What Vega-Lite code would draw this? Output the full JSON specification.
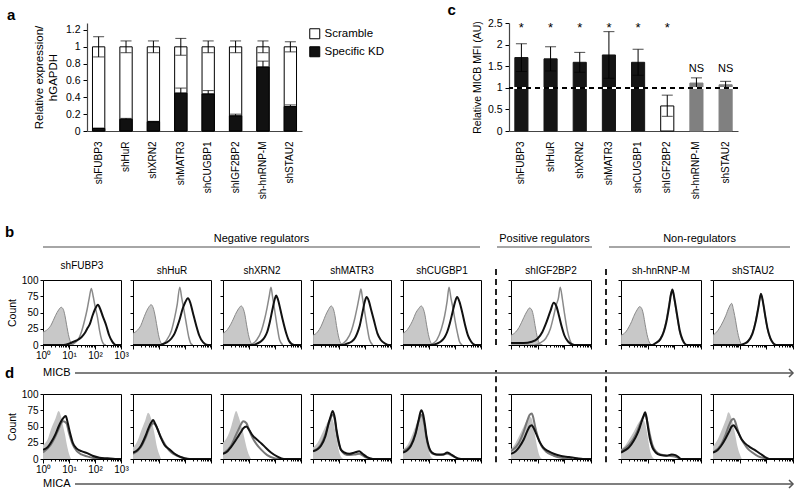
{
"$schema":"https://vega.github.io/schema/vega-lite/v6.json",
"padding":{"left":5,"top":3,"right":0,"bottom":0},
"background":"#ffffff",
"config":{
 "font":"Liberation Sans",
 "view":{"stroke":"#000","strokeWidth":1},
 "axis":{"domain":false,"grid":false,"labelColor":"#000","titleColor":"#000","tickColor":"#000","labelFontSize":10,"titleFontSize":10.5,"titleFontWeight":"normal"},
 "legend":{"labelColor":"#000"},
 "title":{"fontSize":10,"fontWeight":"normal","color":"#000","offset":4},
 "text":{"color":"#000"}
},
"datasets":{
 "expr":[
  {"gene":"shFUBP3","series":"Scramble","value":1,"lo":0.88,"hi":1.12},
  {"gene":"shHuR","series":"Scramble","value":1,"lo":0.93,"hi":1.07},
  {"gene":"shXRN2","series":"Scramble","value":1,"lo":0.93,"hi":1.07},
  {"gene":"shMATR3","series":"Scramble","value":1,"lo":0.9,"hi":1.1},
  {"gene":"shCUGBP1","series":"Scramble","value":1,"lo":0.93,"hi":1.07},
  {"gene":"shIGF2BP2","series":"Scramble","value":1,"lo":0.93,"hi":1.07},
  {"gene":"sh-hnRNP-M","series":"Scramble","value":1,"lo":0.93,"hi":1.07},
  {"gene":"shSTAU2","series":"Scramble","value":1,"lo":0.94,"hi":1.06},
  {"gene":"shFUBP3","series":"Specific KD","value":0.03,"lo":0.03,"hi":0.035},
  {"gene":"shHuR","series":"Specific KD","value":0.14,"lo":0.14,"hi":0.15},
  {"gene":"shXRN2","series":"Specific KD","value":0.11,"lo":0.11,"hi":0.115},
  {"gene":"shMATR3","series":"Specific KD","value":0.45,"lo":0.45,"hi":0.51},
  {"gene":"shCUGBP1","series":"Specific KD","value":0.44,"lo":0.44,"hi":0.48},
  {"gene":"shIGF2BP2","series":"Specific KD","value":0.18,"lo":0.18,"hi":0.2},
  {"gene":"sh-hnRNP-M","series":"Specific KD","value":0.76,"lo":0.76,"hi":0.83},
  {"gene":"shSTAU2","series":"Specific KD","value":0.29,"lo":0.29,"hi":0.31}
 ],
 "mfi":[
  {"gene":"shFUBP3","group":"neg","value":1.7,"lo":1.38,"hi":2.02,"sig":"*"},
  {"gene":"shHuR","group":"neg","value":1.67,"lo":1.39,"hi":1.95,"sig":"*"},
  {"gene":"shXRN2","group":"neg","value":1.59,"lo":1.36,"hi":1.82,"sig":"*"},
  {"gene":"shMATR3","group":"neg","value":1.76,"lo":1.22,"hi":2.3,"sig":"*"},
  {"gene":"shCUGBP1","group":"neg","value":1.59,"lo":1.29,"hi":1.89,"sig":"*"},
  {"gene":"shIGF2BP2","group":"pos","value":0.58,"lo":0.34,"hi":0.83,"sig":"*"},
  {"gene":"sh-hnRNP-M","group":"non","value":1.11,"lo":0.99,"hi":1.23,"sig":"NS"},
  {"gene":"shSTAU2","group":"non","value":1.07,"lo":0.99,"hi":1.15,"sig":"NS"}
 ],
 "flow":[
  {"panel":"b1","series":"iso","mfi":1,"count":20},{"panel":"b1","series":"iso","mfi":1.5,"count":24},{"panel":"b1","series":"iso","mfi":2,"count":30},{"panel":"b1","series":"iso","mfi":2.5,"count":38},{"panel":"b1","series":"iso","mfi":3,"count":45},{"panel":"b1","series":"iso","mfi":4,"count":54},{"panel":"b1","series":"iso","mfi":5,"count":58},{"panel":"b1","series":"iso","mfi":6,"count":55},{"panel":"b1","series":"iso","mfi":7,"count":45},{"panel":"b1","series":"iso","mfi":8,"count":32},{"panel":"b1","series":"iso","mfi":10,"count":12},{"panel":"b1","series":"iso","mfi":12,"count":3},{"panel":"b1","series":"iso","mfi":15,"count":0},
  {"panel":"b1","series":"scr","mfi":12,"count":0},{"panel":"b1","series":"scr","mfi":15,"count":2},{"panel":"b1","series":"scr","mfi":20,"count":6},{"panel":"b1","series":"scr","mfi":25,"count":12},{"panel":"b1","series":"scr","mfi":30,"count":20},{"panel":"b1","series":"scr","mfi":40,"count":38},{"panel":"b1","series":"scr","mfi":50,"count":55},{"panel":"b1","series":"scr","mfi":60,"count":72},{"panel":"b1","series":"scr","mfi":72,"count":87},{"panel":"b1","series":"scr","mfi":85,"count":75},{"panel":"b1","series":"scr","mfi":100,"count":60},{"panel":"b1","series":"scr","mfi":125,"count":42},{"panel":"b1","series":"scr","mfi":150,"count":22},{"panel":"b1","series":"scr","mfi":180,"count":8},{"panel":"b1","series":"scr","mfi":220,"count":1},{"panel":"b1","series":"scr","mfi":260,"count":0},
  {"panel":"b1","series":"kd","mfi":1,"count":0},{"panel":"b1","series":"kd","mfi":6,"count":0},{"panel":"b1","series":"kd","mfi":10,"count":2},{"panel":"b1","series":"kd","mfi":15,"count":5},{"panel":"b1","series":"kd","mfi":20,"count":7},{"panel":"b1","series":"kd","mfi":30,"count":12},{"panel":"b1","series":"kd","mfi":40,"count":18},{"panel":"b1","series":"kd","mfi":50,"count":25},{"panel":"b1","series":"kd","mfi":63,"count":32},{"panel":"b1","series":"kd","mfi":80,"count":45},{"panel":"b1","series":"kd","mfi":100,"count":55},{"panel":"b1","series":"kd","mfi":130,"count":62},{"panel":"b1","series":"kd","mfi":160,"count":55},{"panel":"b1","series":"kd","mfi":200,"count":44},{"panel":"b1","series":"kd","mfi":270,"count":30},{"panel":"b1","series":"kd","mfi":350,"count":15},{"panel":"b1","series":"kd","mfi":450,"count":6},{"panel":"b1","series":"kd","mfi":640,"count":0},{"panel":"b1","series":"kd","mfi":1000,"count":0},

  {"panel":"b2","series":"iso","mfi":1,"count":18},{"panel":"b2","series":"iso","mfi":1.5,"count":23},{"panel":"b2","series":"iso","mfi":2,"count":30},{"panel":"b2","series":"iso","mfi":2.5,"count":40},{"panel":"b2","series":"iso","mfi":3,"count":48},{"panel":"b2","series":"iso","mfi":4,"count":58},{"panel":"b2","series":"iso","mfi":5,"count":62},{"panel":"b2","series":"iso","mfi":6,"count":57},{"panel":"b2","series":"iso","mfi":7,"count":46},{"panel":"b2","series":"iso","mfi":8,"count":33},{"panel":"b2","series":"iso","mfi":10,"count":12},{"panel":"b2","series":"iso","mfi":12,"count":3},{"panel":"b2","series":"iso","mfi":15,"count":0},
  {"panel":"b2","series":"scr","mfi":12,"count":0},{"panel":"b2","series":"scr","mfi":16,"count":3},{"panel":"b2","series":"scr","mfi":20,"count":8},{"panel":"b2","series":"scr","mfi":30,"count":22},{"panel":"b2","series":"scr","mfi":40,"count":42},{"panel":"b2","series":"scr","mfi":50,"count":62},{"panel":"b2","series":"scr","mfi":63,"count":89},{"panel":"b2","series":"scr","mfi":75,"count":72},{"panel":"b2","series":"scr","mfi":90,"count":55},{"panel":"b2","series":"scr","mfi":110,"count":35},{"panel":"b2","series":"scr","mfi":140,"count":12},{"panel":"b2","series":"scr","mfi":170,"count":2},{"panel":"b2","series":"scr","mfi":200,"count":0},
  {"panel":"b2","series":"kd","mfi":1,"count":0},{"panel":"b2","series":"kd","mfi":10,"count":0},{"panel":"b2","series":"kd","mfi":15,"count":2},{"panel":"b2","series":"kd","mfi":20,"count":4},{"panel":"b2","series":"kd","mfi":30,"count":10},{"panel":"b2","series":"kd","mfi":40,"count":18},{"panel":"b2","series":"kd","mfi":50,"count":28},{"panel":"b2","series":"kd","mfi":63,"count":40},{"panel":"b2","series":"kd","mfi":80,"count":55},{"panel":"b2","series":"kd","mfi":100,"count":65},{"panel":"b2","series":"kd","mfi":130,"count":72},{"panel":"b2","series":"kd","mfi":160,"count":65},{"panel":"b2","series":"kd","mfi":200,"count":50},{"panel":"b2","series":"kd","mfi":270,"count":30},{"panel":"b2","series":"kd","mfi":350,"count":15},{"panel":"b2","series":"kd","mfi":500,"count":4},{"panel":"b2","series":"kd","mfi":760,"count":0},{"panel":"b2","series":"kd","mfi":1000,"count":0},

  {"panel":"b3","series":"iso","mfi":1,"count":18},{"panel":"b3","series":"iso","mfi":1.5,"count":24},{"panel":"b3","series":"iso","mfi":2,"count":32},{"panel":"b3","series":"iso","mfi":2.5,"count":40},{"panel":"b3","series":"iso","mfi":3,"count":47},{"panel":"b3","series":"iso","mfi":4,"count":56},{"panel":"b3","series":"iso","mfi":5,"count":60},{"panel":"b3","series":"iso","mfi":6,"count":56},{"panel":"b3","series":"iso","mfi":7,"count":46},{"panel":"b3","series":"iso","mfi":8,"count":32},{"panel":"b3","series":"iso","mfi":10,"count":12},{"panel":"b3","series":"iso","mfi":12,"count":3},{"panel":"b3","series":"iso","mfi":15,"count":0},
  {"panel":"b3","series":"scr","mfi":10,"count":0},{"panel":"b3","series":"scr","mfi":15,"count":3},{"panel":"b3","series":"scr","mfi":20,"count":8},{"panel":"b3","series":"scr","mfi":30,"count":22},{"panel":"b3","series":"scr","mfi":40,"count":40},{"panel":"b3","series":"scr","mfi":50,"count":58},{"panel":"b3","series":"scr","mfi":60,"count":75},{"panel":"b3","series":"scr","mfi":70,"count":89},{"panel":"b3","series":"scr","mfi":80,"count":75},{"panel":"b3","series":"scr","mfi":100,"count":50},{"panel":"b3","series":"scr","mfi":125,"count":25},{"panel":"b3","series":"scr","mfi":150,"count":8},{"panel":"b3","series":"scr","mfi":200,"count":0},
  {"panel":"b3","series":"kd","mfi":1,"count":0},{"panel":"b3","series":"kd","mfi":15,"count":0},{"panel":"b3","series":"kd","mfi":20,"count":2},{"panel":"b3","series":"kd","mfi":30,"count":6},{"panel":"b3","series":"kd","mfi":40,"count":12},{"panel":"b3","series":"kd","mfi":50,"count":20},{"panel":"b3","series":"kd","mfi":63,"count":35},{"panel":"b3","series":"kd","mfi":80,"count":55},{"panel":"b3","series":"kd","mfi":100,"count":72},{"panel":"b3","series":"kd","mfi":110,"count":76},{"panel":"b3","series":"kd","mfi":130,"count":70},{"panel":"b3","series":"kd","mfi":160,"count":55},{"panel":"b3","series":"kd","mfi":200,"count":38},{"panel":"b3","series":"kd","mfi":270,"count":18},{"panel":"b3","series":"kd","mfi":350,"count":6},{"panel":"b3","series":"kd","mfi":540,"count":0},{"panel":"b3","series":"kd","mfi":1000,"count":0},

  {"panel":"b4","series":"iso","mfi":1,"count":15},{"panel":"b4","series":"iso","mfi":1.5,"count":20},{"panel":"b4","series":"iso","mfi":2,"count":28},{"panel":"b4","series":"iso","mfi":2.5,"count":37},{"panel":"b4","series":"iso","mfi":3,"count":45},{"panel":"b4","series":"iso","mfi":4,"count":55},{"panel":"b4","series":"iso","mfi":5,"count":60},{"panel":"b4","series":"iso","mfi":6,"count":56},{"panel":"b4","series":"iso","mfi":7,"count":45},{"panel":"b4","series":"iso","mfi":8,"count":30},{"panel":"b4","series":"iso","mfi":10,"count":10},{"panel":"b4","series":"iso","mfi":12,"count":2},{"panel":"b4","series":"iso","mfi":15,"count":0},
  {"panel":"b4","series":"scr","mfi":10,"count":0},{"panel":"b4","series":"scr","mfi":15,"count":3},{"panel":"b4","series":"scr","mfi":20,"count":8},{"panel":"b4","series":"scr","mfi":30,"count":22},{"panel":"b4","series":"scr","mfi":40,"count":40},{"panel":"b4","series":"scr","mfi":50,"count":58},{"panel":"b4","series":"scr","mfi":60,"count":74},{"panel":"b4","series":"scr","mfi":70,"count":86},{"panel":"b4","series":"scr","mfi":80,"count":72},{"panel":"b4","series":"scr","mfi":100,"count":48},{"panel":"b4","series":"scr","mfi":125,"count":24},{"panel":"b4","series":"scr","mfi":150,"count":8},{"panel":"b4","series":"scr","mfi":200,"count":0},
  {"panel":"b4","series":"kd","mfi":1,"count":0},{"panel":"b4","series":"kd","mfi":15,"count":0},{"panel":"b4","series":"kd","mfi":20,"count":2},{"panel":"b4","series":"kd","mfi":30,"count":5},{"panel":"b4","series":"kd","mfi":40,"count":10},{"panel":"b4","series":"kd","mfi":50,"count":18},{"panel":"b4","series":"kd","mfi":63,"count":30},{"panel":"b4","series":"kd","mfi":80,"count":50},{"panel":"b4","series":"kd","mfi":100,"count":68},{"panel":"b4","series":"kd","mfi":115,"count":74},{"panel":"b4","series":"kd","mfi":140,"count":68},{"panel":"b4","series":"kd","mfi":170,"count":55},{"panel":"b4","series":"kd","mfi":220,"count":38},{"panel":"b4","series":"kd","mfi":300,"count":18},{"panel":"b4","series":"kd","mfi":400,"count":8},{"panel":"b4","series":"kd","mfi":600,"count":2},{"panel":"b4","series":"kd","mfi":830,"count":0},{"panel":"b4","series":"kd","mfi":1000,"count":0},

  {"panel":"b5","series":"iso","mfi":1,"count":18},{"panel":"b5","series":"iso","mfi":1.5,"count":24},{"panel":"b5","series":"iso","mfi":2,"count":32},{"panel":"b5","series":"iso","mfi":2.5,"count":40},{"panel":"b5","series":"iso","mfi":3,"count":48},{"panel":"b5","series":"iso","mfi":4,"count":56},{"panel":"b5","series":"iso","mfi":5,"count":60},{"panel":"b5","series":"iso","mfi":6,"count":56},{"panel":"b5","series":"iso","mfi":7,"count":46},{"panel":"b5","series":"iso","mfi":8,"count":32},{"panel":"b5","series":"iso","mfi":10,"count":12},{"panel":"b5","series":"iso","mfi":12,"count":3},{"panel":"b5","series":"iso","mfi":15,"count":0},
  {"panel":"b5","series":"scr","mfi":10,"count":0},{"panel":"b5","series":"scr","mfi":15,"count":3},{"panel":"b5","series":"scr","mfi":20,"count":8},{"panel":"b5","series":"scr","mfi":30,"count":25},{"panel":"b5","series":"scr","mfi":40,"count":45},{"panel":"b5","series":"scr","mfi":50,"count":68},{"panel":"b5","series":"scr","mfi":59,"count":89},{"panel":"b5","series":"scr","mfi":70,"count":72},{"panel":"b5","series":"scr","mfi":85,"count":55},{"panel":"b5","series":"scr","mfi":100,"count":38},{"panel":"b5","series":"scr","mfi":125,"count":18},{"panel":"b5","series":"scr","mfi":150,"count":5},{"panel":"b5","series":"scr","mfi":190,"count":0},
  {"panel":"b5","series":"kd","mfi":1,"count":0},{"panel":"b5","series":"kd","mfi":12,"count":0},{"panel":"b5","series":"kd","mfi":20,"count":2},{"panel":"b5","series":"kd","mfi":30,"count":6},{"panel":"b5","series":"kd","mfi":40,"count":12},{"panel":"b5","series":"kd","mfi":50,"count":20},{"panel":"b5","series":"kd","mfi":63,"count":33},{"panel":"b5","series":"kd","mfi":80,"count":50},{"panel":"b5","series":"kd","mfi":100,"count":66},{"panel":"b5","series":"kd","mfi":120,"count":74},{"panel":"b5","series":"kd","mfi":150,"count":66},{"panel":"b5","series":"kd","mfi":190,"count":50},{"panel":"b5","series":"kd","mfi":240,"count":32},{"panel":"b5","series":"kd","mfi":320,"count":14},{"panel":"b5","series":"kd","mfi":420,"count":5},{"panel":"b5","series":"kd","mfi":600,"count":0},{"panel":"b5","series":"kd","mfi":1000,"count":0},

  {"panel":"b6","series":"iso","mfi":1,"count":15},{"panel":"b6","series":"iso","mfi":1.5,"count":20},{"panel":"b6","series":"iso","mfi":2,"count":27},{"panel":"b6","series":"iso","mfi":2.5,"count":35},{"panel":"b6","series":"iso","mfi":3,"count":42},{"panel":"b6","series":"iso","mfi":4,"count":52},{"panel":"b6","series":"iso","mfi":5,"count":57},{"panel":"b6","series":"iso","mfi":6,"count":54},{"panel":"b6","series":"iso","mfi":7,"count":44},{"panel":"b6","series":"iso","mfi":8,"count":30},{"panel":"b6","series":"iso","mfi":10,"count":10},{"panel":"b6","series":"iso","mfi":12,"count":2},{"panel":"b6","series":"iso","mfi":15,"count":0},
  {"panel":"b6","series":"scr","mfi":8,"count":0},{"panel":"b6","series":"scr","mfi":12,"count":3},{"panel":"b6","series":"scr","mfi":20,"count":10},{"panel":"b6","series":"scr","mfi":30,"count":25},{"panel":"b6","series":"scr","mfi":40,"count":45},{"panel":"b6","series":"scr","mfi":50,"count":62},{"panel":"b6","series":"scr","mfi":60,"count":72},{"panel":"b6","series":"scr","mfi":70,"count":89},{"panel":"b6","series":"scr","mfi":85,"count":70},{"panel":"b6","series":"scr","mfi":100,"count":50},{"panel":"b6","series":"scr","mfi":130,"count":22},{"panel":"b6","series":"scr","mfi":160,"count":8},{"panel":"b6","series":"scr","mfi":200,"count":0},
  {"panel":"b6","series":"kd","mfi":1,"count":3},{"panel":"b6","series":"kd","mfi":3,"count":3},{"panel":"b6","series":"kd","mfi":6,"count":5},{"panel":"b6","series":"kd","mfi":10,"count":10},{"panel":"b6","series":"kd","mfi":15,"count":20},{"panel":"b6","series":"kd","mfi":20,"count":32},{"panel":"b6","series":"kd","mfi":30,"count":52},{"panel":"b6","series":"kd","mfi":40,"count":65},{"panel":"b6","series":"kd","mfi":50,"count":60},{"panel":"b6","series":"kd","mfi":63,"count":45},{"panel":"b6","series":"kd","mfi":80,"count":28},{"panel":"b6","series":"kd","mfi":100,"count":15},{"panel":"b6","series":"kd","mfi":140,"count":5},{"panel":"b6","series":"kd","mfi":240,"count":0},{"panel":"b6","series":"kd","mfi":1000,"count":0},

  {"panel":"b7","series":"iso","mfi":1,"count":15},{"panel":"b7","series":"iso","mfi":1.5,"count":20},{"panel":"b7","series":"iso","mfi":2,"count":28},{"panel":"b7","series":"iso","mfi":2.5,"count":36},{"panel":"b7","series":"iso","mfi":3,"count":44},{"panel":"b7","series":"iso","mfi":4,"count":54},{"panel":"b7","series":"iso","mfi":5,"count":59},{"panel":"b7","series":"iso","mfi":6,"count":56},{"panel":"b7","series":"iso","mfi":7,"count":46},{"panel":"b7","series":"iso","mfi":8,"count":32},{"panel":"b7","series":"iso","mfi":10,"count":12},{"panel":"b7","series":"iso","mfi":12,"count":3},{"panel":"b7","series":"iso","mfi":15,"count":0},
  {"panel":"b7","series":"scr","mfi":15,"count":0},{"panel":"b7","series":"scr","mfi":20,"count":3},{"panel":"b7","series":"scr","mfi":30,"count":10},{"panel":"b7","series":"scr","mfi":40,"count":22},{"panel":"b7","series":"scr","mfi":50,"count":38},{"panel":"b7","series":"scr","mfi":63,"count":62},{"panel":"b7","series":"scr","mfi":75,"count":80},{"panel":"b7","series":"scr","mfi":85,"count":86},{"panel":"b7","series":"scr","mfi":100,"count":70},{"panel":"b7","series":"scr","mfi":125,"count":45},{"panel":"b7","series":"scr","mfi":160,"count":20},{"panel":"b7","series":"scr","mfi":200,"count":7},{"panel":"b7","series":"scr","mfi":280,"count":0},
  {"panel":"b7","series":"kd","mfi":1,"count":0},{"panel":"b7","series":"kd","mfi":15,"count":0},{"panel":"b7","series":"kd","mfi":20,"count":3},{"panel":"b7","series":"kd","mfi":30,"count":9},{"panel":"b7","series":"kd","mfi":40,"count":20},{"panel":"b7","series":"kd","mfi":50,"count":35},{"panel":"b7","series":"kd","mfi":63,"count":58},{"panel":"b7","series":"kd","mfi":75,"count":78},{"panel":"b7","series":"kd","mfi":85,"count":85},{"panel":"b7","series":"kd","mfi":100,"count":72},{"panel":"b7","series":"kd","mfi":125,"count":48},{"panel":"b7","series":"kd","mfi":160,"count":22},{"panel":"b7","series":"kd","mfi":200,"count":9},{"panel":"b7","series":"kd","mfi":300,"count":0},{"panel":"b7","series":"kd","mfi":1000,"count":0},

  {"panel":"b8","series":"iso","mfi":1,"count":15},{"panel":"b8","series":"iso","mfi":1.5,"count":22},{"panel":"b8","series":"iso","mfi":2,"count":30},{"panel":"b8","series":"iso","mfi":3,"count":45},{"panel":"b8","series":"iso","mfi":4,"count":58},{"panel":"b8","series":"iso","mfi":5,"count":64},{"panel":"b8","series":"iso","mfi":6,"count":52},{"panel":"b8","series":"iso","mfi":7,"count":38},{"panel":"b8","series":"iso","mfi":8,"count":24},{"panel":"b8","series":"iso","mfi":10,"count":7},{"panel":"b8","series":"iso","mfi":12,"count":0},
  {"panel":"b8","series":"scr","mfi":10,"count":0},{"panel":"b8","series":"scr","mfi":15,"count":2},{"panel":"b8","series":"scr","mfi":20,"count":6},{"panel":"b8","series":"scr","mfi":30,"count":18},{"panel":"b8","series":"scr","mfi":40,"count":38},{"panel":"b8","series":"scr","mfi":50,"count":58},{"panel":"b8","series":"scr","mfi":63,"count":78},{"panel":"b8","series":"scr","mfi":75,"count":65},{"panel":"b8","series":"scr","mfi":90,"count":45},{"panel":"b8","series":"scr","mfi":110,"count":25},{"panel":"b8","series":"scr","mfi":140,"count":10},{"panel":"b8","series":"scr","mfi":180,"count":3},{"panel":"b8","series":"scr","mfi":240,"count":0},
  {"panel":"b8","series":"kd","mfi":1,"count":0},{"panel":"b8","series":"kd","mfi":10,"count":0},{"panel":"b8","series":"kd","mfi":15,"count":2},{"panel":"b8","series":"kd","mfi":20,"count":5},{"panel":"b8","series":"kd","mfi":30,"count":17},{"panel":"b8","series":"kd","mfi":40,"count":36},{"panel":"b8","series":"kd","mfi":50,"count":57},{"panel":"b8","series":"kd","mfi":63,"count":79},{"panel":"b8","series":"kd","mfi":75,"count":66},{"panel":"b8","series":"kd","mfi":90,"count":46},{"panel":"b8","series":"kd","mfi":110,"count":26},{"panel":"b8","series":"kd","mfi":140,"count":11},{"panel":"b8","series":"kd","mfi":180,"count":3},{"panel":"b8","series":"kd","mfi":240,"count":0},{"panel":"b8","series":"kd","mfi":1000,"count":0},

  {"panel":"d1","series":"iso","mfi":1,"count":22},{"panel":"d1","series":"iso","mfi":1.5,"count":30},{"panel":"d1","series":"iso","mfi":2,"count":45},{"panel":"d1","series":"iso","mfi":3,"count":62},{"panel":"d1","series":"iso","mfi":4,"count":74},{"panel":"d1","series":"iso","mfi":5,"count":65},{"panel":"d1","series":"iso","mfi":6,"count":50},{"panel":"d1","series":"iso","mfi":7,"count":38},{"panel":"d1","series":"iso","mfi":8,"count":25},{"panel":"d1","series":"iso","mfi":10,"count":8},{"panel":"d1","series":"iso","mfi":12,"count":0},
  {"panel":"d1","series":"scr","mfi":1,"count":10},{"panel":"d1","series":"scr","mfi":2,"count":22},{"panel":"d1","series":"scr","mfi":3,"count":35},{"panel":"d1","series":"scr","mfi":4,"count":46},{"panel":"d1","series":"scr","mfi":5,"count":55},{"panel":"d1","series":"scr","mfi":6,"count":58},{"panel":"d1","series":"scr","mfi":8,"count":55},{"panel":"d1","series":"scr","mfi":10,"count":40},{"panel":"d1","series":"scr","mfi":14,"count":22},{"panel":"d1","series":"scr","mfi":20,"count":12},{"panel":"d1","series":"scr","mfi":30,"count":7},{"panel":"d1","series":"scr","mfi":50,"count":4},{"panel":"d1","series":"scr","mfi":100,"count":1},{"panel":"d1","series":"scr","mfi":200,"count":0},
  {"panel":"d1","series":"kd","mfi":1,"count":14},{"panel":"d1","series":"kd","mfi":1.5,"count":18},{"panel":"d1","series":"kd","mfi":2,"count":25},{"panel":"d1","series":"kd","mfi":3,"count":38},{"panel":"d1","series":"kd","mfi":4,"count":50},{"panel":"d1","series":"kd","mfi":5,"count":58},{"panel":"d1","series":"kd","mfi":6,"count":63},{"panel":"d1","series":"kd","mfi":7.5,"count":66},{"panel":"d1","series":"kd","mfi":9,"count":55},{"panel":"d1","series":"kd","mfi":11,"count":40},{"panel":"d1","series":"kd","mfi":14,"count":25},{"panel":"d1","series":"kd","mfi":20,"count":16},{"panel":"d1","series":"kd","mfi":30,"count":12},{"panel":"d1","series":"kd","mfi":50,"count":9},{"panel":"d1","series":"kd","mfi":80,"count":5},{"panel":"d1","series":"kd","mfi":150,"count":2},{"panel":"d1","series":"kd","mfi":300,"count":1},{"panel":"d1","series":"kd","mfi":600,"count":0},{"panel":"d1","series":"kd","mfi":1000,"count":0},

  {"panel":"d2","series":"iso","mfi":1,"count":18},{"panel":"d2","series":"iso","mfi":1.5,"count":28},{"panel":"d2","series":"iso","mfi":2,"count":42},{"panel":"d2","series":"iso","mfi":3,"count":60},{"panel":"d2","series":"iso","mfi":3.8,"count":71},{"panel":"d2","series":"iso","mfi":5,"count":62},{"panel":"d2","series":"iso","mfi":6,"count":48},{"panel":"d2","series":"iso","mfi":7,"count":35},{"panel":"d2","series":"iso","mfi":8,"count":22},{"panel":"d2","series":"iso","mfi":10,"count":8},{"panel":"d2","series":"iso","mfi":12,"count":0},
  {"panel":"d2","series":"scr","mfi":1,"count":8},{"panel":"d2","series":"scr","mfi":2,"count":18},{"panel":"d2","series":"scr","mfi":3,"count":32},{"panel":"d2","series":"scr","mfi":4,"count":45},{"panel":"d2","series":"scr","mfi":5,"count":52},{"panel":"d2","series":"scr","mfi":6,"count":55},{"panel":"d2","series":"scr","mfi":8,"count":50},{"panel":"d2","series":"scr","mfi":10,"count":40},{"panel":"d2","series":"scr","mfi":14,"count":28},{"panel":"d2","series":"scr","mfi":20,"count":18},{"panel":"d2","series":"scr","mfi":30,"count":10},{"panel":"d2","series":"scr","mfi":50,"count":5},{"panel":"d2","series":"scr","mfi":100,"count":1},{"panel":"d2","series":"scr","mfi":150,"count":0},
  {"panel":"d2","series":"kd","mfi":1,"count":10},{"panel":"d2","series":"kd","mfi":1.5,"count":14},{"panel":"d2","series":"kd","mfi":2,"count":20},{"panel":"d2","series":"kd","mfi":3,"count":35},{"panel":"d2","series":"kd","mfi":4,"count":48},{"panel":"d2","series":"kd","mfi":5,"count":56},{"panel":"d2","series":"kd","mfi":6,"count":60},{"panel":"d2","series":"kd","mfi":7,"count":55},{"panel":"d2","series":"kd","mfi":9,"count":45},{"panel":"d2","series":"kd","mfi":12,"count":32},{"panel":"d2","series":"kd","mfi":16,"count":22},{"panel":"d2","series":"kd","mfi":25,"count":15},{"panel":"d2","series":"kd","mfi":40,"count":8},{"panel":"d2","series":"kd","mfi":60,"count":4},{"panel":"d2","series":"kd","mfi":100,"count":1},{"panel":"d2","series":"kd","mfi":150,"count":0},{"panel":"d2","series":"kd","mfi":1000,"count":0},

  {"panel":"d3","series":"iso","mfi":1,"count":25},{"panel":"d3","series":"iso","mfi":1.5,"count":35},{"panel":"d3","series":"iso","mfi":2,"count":48},{"panel":"d3","series":"iso","mfi":2.5,"count":62},{"panel":"d3","series":"iso","mfi":3.2,"count":74},{"panel":"d3","series":"iso","mfi":4,"count":65},{"panel":"d3","series":"iso","mfi":5,"count":52},{"panel":"d3","series":"iso","mfi":6,"count":40},{"panel":"d3","series":"iso","mfi":7,"count":28},{"panel":"d3","series":"iso","mfi":8,"count":18},{"panel":"d3","series":"iso","mfi":10,"count":6},{"panel":"d3","series":"iso","mfi":12,"count":0},
  {"panel":"d3","series":"scr","mfi":1,"count":8},{"panel":"d3","series":"scr","mfi":2,"count":20},{"panel":"d3","series":"scr","mfi":3,"count":35},{"panel":"d3","series":"scr","mfi":4,"count":46},{"panel":"d3","series":"scr","mfi":5,"count":54},{"panel":"d3","series":"scr","mfi":6,"count":58},{"panel":"d3","series":"scr","mfi":8,"count":55},{"panel":"d3","series":"scr","mfi":10,"count":45},{"panel":"d3","series":"scr","mfi":14,"count":32},{"panel":"d3","series":"scr","mfi":20,"count":22},{"panel":"d3","series":"scr","mfi":30,"count":14},{"panel":"d3","series":"scr","mfi":50,"count":6},{"panel":"d3","series":"scr","mfi":100,"count":1},{"panel":"d3","series":"scr","mfi":160,"count":0},
  {"panel":"d3","series":"kd","mfi":1,"count":8},{"panel":"d3","series":"kd","mfi":1.5,"count":12},{"panel":"d3","series":"kd","mfi":2,"count":18},{"panel":"d3","series":"kd","mfi":3,"count":28},{"panel":"d3","series":"kd","mfi":4,"count":36},{"panel":"d3","series":"kd","mfi":5,"count":42},{"panel":"d3","series":"kd","mfi":6,"count":47},{"panel":"d3","series":"kd","mfi":8,"count":50},{"panel":"d3","series":"kd","mfi":10,"count":45},{"panel":"d3","series":"kd","mfi":14,"count":36},{"panel":"d3","series":"kd","mfi":20,"count":30},{"panel":"d3","series":"kd","mfi":30,"count":24},{"panel":"d3","series":"kd","mfi":45,"count":17},{"panel":"d3","series":"kd","mfi":70,"count":10},{"panel":"d3","series":"kd","mfi":120,"count":4},{"panel":"d3","series":"kd","mfi":220,"count":0},{"panel":"d3","series":"kd","mfi":1000,"count":0},

  {"panel":"d4","series":"iso","mfi":1,"count":18},{"panel":"d4","series":"iso","mfi":1.5,"count":25},{"panel":"d4","series":"iso","mfi":2,"count":35},{"panel":"d4","series":"iso","mfi":3,"count":50},{"panel":"d4","series":"iso","mfi":4,"count":60},{"panel":"d4","series":"iso","mfi":5,"count":64},{"panel":"d4","series":"iso","mfi":6,"count":58},{"panel":"d4","series":"iso","mfi":7,"count":45},{"panel":"d4","series":"iso","mfi":8,"count":32},{"panel":"d4","series":"iso","mfi":10,"count":12},{"panel":"d4","series":"iso","mfi":12,"count":3},{"panel":"d4","series":"iso","mfi":15,"count":0},
  {"panel":"d4","series":"scr","mfi":1,"count":12},{"panel":"d4","series":"scr","mfi":2,"count":22},{"panel":"d4","series":"scr","mfi":3,"count":38},{"panel":"d4","series":"scr","mfi":4,"count":55},{"panel":"d4","series":"scr","mfi":5,"count":65},{"panel":"d4","series":"scr","mfi":6,"count":68},{"panel":"d4","series":"scr","mfi":7,"count":58},{"panel":"d4","series":"scr","mfi":8,"count":42},{"panel":"d4","series":"scr","mfi":10,"count":22},{"panel":"d4","series":"scr","mfi":14,"count":10},{"panel":"d4","series":"scr","mfi":20,"count":6},{"panel":"d4","series":"scr","mfi":40,"count":7},{"panel":"d4","series":"scr","mfi":60,"count":8},{"panel":"d4","series":"scr","mfi":100,"count":3},{"panel":"d4","series":"scr","mfi":200,"count":0},
  {"panel":"d4","series":"kd","mfi":1,"count":12},{"panel":"d4","series":"kd","mfi":1.5,"count":15},{"panel":"d4","series":"kd","mfi":2,"count":20},{"panel":"d4","series":"kd","mfi":3,"count":35},{"panel":"d4","series":"kd","mfi":4,"count":55},{"panel":"d4","series":"kd","mfi":5,"count":68},{"panel":"d4","series":"kd","mfi":5.7,"count":74},{"panel":"d4","series":"kd","mfi":7,"count":62},{"panel":"d4","series":"kd","mfi":8,"count":45},{"panel":"d4","series":"kd","mfi":10,"count":25},{"panel":"d4","series":"kd","mfi":12,"count":14},{"panel":"d4","series":"kd","mfi":16,"count":10},{"panel":"d4","series":"kd","mfi":25,"count":8},{"panel":"d4","series":"kd","mfi":40,"count":10},{"panel":"d4","series":"kd","mfi":60,"count":12},{"panel":"d4","series":"kd","mfi":80,"count":8},{"panel":"d4","series":"kd","mfi":120,"count":3},{"panel":"d4","series":"kd","mfi":200,"count":0},{"panel":"d4","series":"kd","mfi":1000,"count":0},

  {"panel":"d5","series":"iso","mfi":1,"count":15},{"panel":"d5","series":"iso","mfi":1.5,"count":22},{"panel":"d5","series":"iso","mfi":2,"count":32},{"panel":"d5","series":"iso","mfi":3,"count":50},{"panel":"d5","series":"iso","mfi":4,"count":63},{"panel":"d5","series":"iso","mfi":5,"count":68},{"panel":"d5","series":"iso","mfi":6,"count":60},{"panel":"d5","series":"iso","mfi":7,"count":45},{"panel":"d5","series":"iso","mfi":8,"count":30},{"panel":"d5","series":"iso","mfi":10,"count":12},{"panel":"d5","series":"iso","mfi":12,"count":3},{"panel":"d5","series":"iso","mfi":15,"count":0},
  {"panel":"d5","series":"scr","mfi":1,"count":12},{"panel":"d5","series":"scr","mfi":2,"count":22},{"panel":"d5","series":"scr","mfi":3,"count":40},{"panel":"d5","series":"scr","mfi":4,"count":58},{"panel":"d5","series":"scr","mfi":5,"count":68},{"panel":"d5","series":"scr","mfi":6,"count":62},{"panel":"d5","series":"scr","mfi":7,"count":48},{"panel":"d5","series":"scr","mfi":8,"count":32},{"panel":"d5","series":"scr","mfi":10,"count":16},{"panel":"d5","series":"scr","mfi":14,"count":8},{"panel":"d5","series":"scr","mfi":25,"count":6},{"panel":"d5","series":"scr","mfi":50,"count":8},{"panel":"d5","series":"scr","mfi":80,"count":5},{"panel":"d5","series":"scr","mfi":130,"count":1},{"panel":"d5","series":"scr","mfi":170,"count":0},
  {"panel":"d5","series":"kd","mfi":1,"count":10},{"panel":"d5","series":"kd","mfi":1.5,"count":14},{"panel":"d5","series":"kd","mfi":2,"count":20},{"panel":"d5","series":"kd","mfi":3,"count":38},{"panel":"d5","series":"kd","mfi":4,"count":60},{"panel":"d5","series":"kd","mfi":5,"count":75},{"panel":"d5","series":"kd","mfi":6,"count":68},{"panel":"d5","series":"kd","mfi":7,"count":52},{"panel":"d5","series":"kd","mfi":8,"count":35},{"panel":"d5","series":"kd","mfi":10,"count":18},{"panel":"d5","series":"kd","mfi":13,"count":10},{"panel":"d5","series":"kd","mfi":20,"count":7},{"panel":"d5","series":"kd","mfi":35,"count":7},{"panel":"d5","series":"kd","mfi":50,"count":10},{"panel":"d5","series":"kd","mfi":65,"count":8},{"panel":"d5","series":"kd","mfi":100,"count":3},{"panel":"d5","series":"kd","mfi":170,"count":0},{"panel":"d5","series":"kd","mfi":1000,"count":0},

  {"panel":"d6","series":"iso","mfi":1,"count":15},{"panel":"d6","series":"iso","mfi":1.5,"count":25},{"panel":"d6","series":"iso","mfi":2,"count":35},{"panel":"d6","series":"iso","mfi":3,"count":50},{"panel":"d6","series":"iso","mfi":4,"count":60},{"panel":"d6","series":"iso","mfi":5,"count":65},{"panel":"d6","series":"iso","mfi":6,"count":62},{"panel":"d6","series":"iso","mfi":7,"count":50},{"panel":"d6","series":"iso","mfi":8,"count":36},{"panel":"d6","series":"iso","mfi":10,"count":15},{"panel":"d6","series":"iso","mfi":12,"count":4},{"panel":"d6","series":"iso","mfi":15,"count":0},
  {"panel":"d6","series":"scr","mfi":1,"count":12},{"panel":"d6","series":"scr","mfi":2,"count":25},{"panel":"d6","series":"scr","mfi":3,"count":42},{"panel":"d6","series":"scr","mfi":4,"count":58},{"panel":"d6","series":"scr","mfi":5,"count":68},{"panel":"d6","series":"scr","mfi":6,"count":70},{"panel":"d6","series":"scr","mfi":7,"count":62},{"panel":"d6","series":"scr","mfi":8,"count":50},{"panel":"d6","series":"scr","mfi":10,"count":35},{"panel":"d6","series":"scr","mfi":14,"count":20},{"panel":"d6","series":"scr","mfi":20,"count":12},{"panel":"d6","series":"scr","mfi":40,"count":5},{"panel":"d6","series":"scr","mfi":100,"count":1},{"panel":"d6","series":"scr","mfi":200,"count":0},
  {"panel":"d6","series":"kd","mfi":1,"count":8},{"panel":"d6","series":"kd","mfi":1.5,"count":12},{"panel":"d6","series":"kd","mfi":2,"count":18},{"panel":"d6","series":"kd","mfi":3,"count":30},{"panel":"d6","series":"kd","mfi":4,"count":42},{"panel":"d6","series":"kd","mfi":5,"count":50},{"panel":"d6","series":"kd","mfi":6,"count":52},{"panel":"d6","series":"kd","mfi":7,"count":48},{"panel":"d6","series":"kd","mfi":9,"count":38},{"panel":"d6","series":"kd","mfi":12,"count":26},{"panel":"d6","series":"kd","mfi":16,"count":18},{"panel":"d6","series":"kd","mfi":25,"count":12},{"panel":"d6","series":"kd","mfi":40,"count":8},{"panel":"d6","series":"kd","mfi":70,"count":5},{"panel":"d6","series":"kd","mfi":150,"count":3},{"panel":"d6","series":"kd","mfi":300,"count":1},{"panel":"d6","series":"kd","mfi":500,"count":0},{"panel":"d6","series":"kd","mfi":1000,"count":0},

  {"panel":"d7","series":"iso","mfi":1,"count":15},{"panel":"d7","series":"iso","mfi":1.5,"count":22},{"panel":"d7","series":"iso","mfi":2,"count":30},{"panel":"d7","series":"iso","mfi":3,"count":42},{"panel":"d7","series":"iso","mfi":4,"count":52},{"panel":"d7","series":"iso","mfi":5,"count":58},{"panel":"d7","series":"iso","mfi":6,"count":62},{"panel":"d7","series":"iso","mfi":7,"count":60},{"panel":"d7","series":"iso","mfi":8,"count":55},{"panel":"d7","series":"iso","mfi":10,"count":35},{"panel":"d7","series":"iso","mfi":12,"count":15},{"panel":"d7","series":"iso","mfi":15,"count":3},{"panel":"d7","series":"iso","mfi":18,"count":0},
  {"panel":"d7","series":"scr","mfi":1,"count":12},{"panel":"d7","series":"scr","mfi":2,"count":22},{"panel":"d7","series":"scr","mfi":3,"count":32},{"panel":"d7","series":"scr","mfi":4,"count":42},{"panel":"d7","series":"scr","mfi":5,"count":52},{"panel":"d7","series":"scr","mfi":6,"count":60},{"panel":"d7","series":"scr","mfi":7,"count":66},{"panel":"d7","series":"scr","mfi":8,"count":68},{"panel":"d7","series":"scr","mfi":10,"count":55},{"panel":"d7","series":"scr","mfi":12,"count":38},{"panel":"d7","series":"scr","mfi":15,"count":22},{"panel":"d7","series":"scr","mfi":20,"count":12},{"panel":"d7","series":"scr","mfi":30,"count":7},{"panel":"d7","series":"scr","mfi":60,"count":5},{"panel":"d7","series":"scr","mfi":100,"count":4},{"panel":"d7","series":"scr","mfi":150,"count":1},{"panel":"d7","series":"scr","mfi":180,"count":0},
  {"panel":"d7","series":"kd","mfi":1,"count":10},{"panel":"d7","series":"kd","mfi":1.5,"count":14},{"panel":"d7","series":"kd","mfi":2,"count":18},{"panel":"d7","series":"kd","mfi":3,"count":28},{"panel":"d7","series":"kd","mfi":4,"count":38},{"panel":"d7","series":"kd","mfi":5,"count":48},{"panel":"d7","series":"kd","mfi":6,"count":58},{"panel":"d7","series":"kd","mfi":7,"count":66},{"panel":"d7","series":"kd","mfi":8,"count":72},{"panel":"d7","series":"kd","mfi":9,"count":65},{"panel":"d7","series":"kd","mfi":10,"count":52},{"panel":"d7","series":"kd","mfi":12,"count":32},{"panel":"d7","series":"kd","mfi":15,"count":18},{"panel":"d7","series":"kd","mfi":20,"count":10},{"panel":"d7","series":"kd","mfi":30,"count":6},{"panel":"d7","series":"kd","mfi":50,"count":5},{"panel":"d7","series":"kd","mfi":80,"count":7},{"panel":"d7","series":"kd","mfi":110,"count":6},{"panel":"d7","series":"kd","mfi":150,"count":2},{"panel":"d7","series":"kd","mfi":180,"count":0},{"panel":"d7","series":"kd","mfi":1000,"count":0},

  {"panel":"d8","series":"iso","mfi":1,"count":20},{"panel":"d8","series":"iso","mfi":1.5,"count":30},{"panel":"d8","series":"iso","mfi":2,"count":42},{"panel":"d8","series":"iso","mfi":3,"count":60},{"panel":"d8","series":"iso","mfi":3.8,"count":72},{"panel":"d8","series":"iso","mfi":5,"count":62},{"panel":"d8","series":"iso","mfi":6,"count":48},{"panel":"d8","series":"iso","mfi":7,"count":35},{"panel":"d8","series":"iso","mfi":8,"count":22},{"panel":"d8","series":"iso","mfi":10,"count":8},{"panel":"d8","series":"iso","mfi":12,"count":0},
  {"panel":"d8","series":"scr","mfi":1,"count":10},{"panel":"d8","series":"scr","mfi":2,"count":22},{"panel":"d8","series":"scr","mfi":3,"count":38},{"panel":"d8","series":"scr","mfi":4,"count":52},{"panel":"d8","series":"scr","mfi":5,"count":60},{"panel":"d8","series":"scr","mfi":6,"count":62},{"panel":"d8","series":"scr","mfi":7,"count":56},{"panel":"d8","series":"scr","mfi":8,"count":48},{"panel":"d8","series":"scr","mfi":10,"count":36},{"panel":"d8","series":"scr","mfi":14,"count":25},{"panel":"d8","series":"scr","mfi":20,"count":16},{"panel":"d8","series":"scr","mfi":30,"count":10},{"panel":"d8","series":"scr","mfi":50,"count":4},{"panel":"d8","series":"scr","mfi":100,"count":1},{"panel":"d8","series":"scr","mfi":130,"count":0},
  {"panel":"d8","series":"kd","mfi":1,"count":10},{"panel":"d8","series":"kd","mfi":1.5,"count":14},{"panel":"d8","series":"kd","mfi":2,"count":20},{"panel":"d8","series":"kd","mfi":3,"count":32},{"panel":"d8","series":"kd","mfi":4,"count":42},{"panel":"d8","series":"kd","mfi":5,"count":50},{"panel":"d8","series":"kd","mfi":6,"count":52},{"panel":"d8","series":"kd","mfi":7,"count":48},{"panel":"d8","series":"kd","mfi":9,"count":40},{"panel":"d8","series":"kd","mfi":12,"count":30},{"panel":"d8","series":"kd","mfi":16,"count":24},{"panel":"d8","series":"kd","mfi":25,"count":18},{"panel":"d8","series":"kd","mfi":40,"count":13},{"panel":"d8","series":"kd","mfi":60,"count":8},{"panel":"d8","series":"kd","mfi":90,"count":3},{"panel":"d8","series":"kd","mfi":130,"count":0},{"panel":"d8","series":"kd","mfi":1000,"count":0}
 ]
},
"spacing":26,
"resolve":{"scale":{"x":"independent","y":"independent","fill":"independent","stroke":"independent"},"axis":{"x":"independent","y":"independent"},"legend":{"fill":"independent"}},
"vconcat":[
 {"spacing":-38,
  "resolve":{"scale":{"x":"independent","y":"independent","fill":"independent","stroke":"independent"},"axis":{"x":"independent","y":"independent"},"legend":{"fill":"independent"}},
  "hconcat":[
  {"width":1,"height":1,"view":{"stroke":null},"data":{"values":[]},"mark":"point"},
  {"spacing":58,
   "resolve":{"scale":{"x":"independent","y":"independent","fill":"independent","stroke":"independent"},"axis":{"x":"independent","y":"independent"},"legend":{"fill":"independent"}},
   "hconcat":[
   {"width":215,"height":108,"view":{"stroke":null},
    "title":{"text":"a","anchor":"start","frame":"bounds","fontSize":15,"fontWeight":"bold","dx":-27,"offset":0},
    "data":{"name":"expr"},
    "encoding":{"x":{"field":"gene","type":"nominal","sort":null,"scale":{"paddingInner":0.55,"paddingOuter":0.2},"axis":{"title":null,"labelAngle":-90,"ticks":false,"labelPadding":10,"domain":true,"domainColor":"#444","domainWidth":1.2,"labelFontSize":10}}},
    "layer":[
     {"mark":{"type":"bar","stroke":"#000","strokeWidth":1},
      "encoding":{"y":{"field":"value","type":"quantitative","stack":null,"scale":{"domain":[0,1.283],"nice":false},"axis":{"title":["Relative expression/","hGAPDH"],"values":[0,0.2,0.4,0.6,0.8,1,1.2],"format":"~g","domain":true,"domainColor":"#444","domainWidth":1.2,"tickSize":4,"labelPadding":3,"titlePadding":7,"titleFontSize":11.5,"labelFontSize":10.5}},
       "fill":{"field":"series","type":"nominal","scale":{"domain":["Scramble","Specific KD"],"range":["#ffffff","#111111"]},"legend":{"title":null,"orient":"right","offset":2,"padding":5,"symbolType":"square","symbolSize":100,"symbolStrokeColor":"#000","symbolStrokeWidth":1,"labelFontSize":11.5,"rowPadding":3,"labelOffset":4}}}},
     {"mark":{"type":"rule","color":"#000","strokeWidth":1},"encoding":{"y":{"field":"lo","type":"quantitative","scale":{"domain":[0,1.283],"nice":false},"axis":{"title":["Relative expression/","hGAPDH"],"values":[0,0.2,0.4,0.6,0.8,1,1.2],"format":"~g","domain":true,"domainColor":"#444","domainWidth":1.2,"tickSize":4,"labelPadding":3,"titlePadding":7,"titleFontSize":11.5,"labelFontSize":10.5}},"y2":{"field":"hi"}}},
     {"mark":{"type":"tick","color":"#000","thickness":1,"size":11},"encoding":{"y":{"field":"hi","type":"quantitative","scale":{"domain":[0,1.283],"nice":false},"axis":{"title":["Relative expression/","hGAPDH"],"values":[0,0.2,0.4,0.6,0.8,1,1.2],"format":"~g","domain":true,"domainColor":"#444","domainWidth":1.2,"tickSize":4,"labelPadding":3,"titlePadding":7,"titleFontSize":11.5,"labelFontSize":10.5}}}},
     {"mark":{"type":"tick","color":"#000","thickness":1,"size":11},"encoding":{"y":{"field":"lo","type":"quantitative","scale":{"domain":[0,1.283],"nice":false},"axis":{"title":["Relative expression/","hGAPDH"],"values":[0,0.2,0.4,0.6,0.8,1,1.2],"format":"~g","domain":true,"domainColor":"#444","domainWidth":1.2,"tickSize":4,"labelPadding":3,"titlePadding":7,"titleFontSize":11.5,"labelFontSize":10.5}}}}
    ]},
   {"width":229,"height":108,"view":{"stroke":null},
    "title":{"text":"c","anchor":"start","frame":"bounds","fontSize":15,"fontWeight":"bold","dx":-25,"offset":0},
    "data":{"name":"mfi"},
    "layer":[
     {"mark":{"type":"bar","strokeWidth":1},
      "encoding":{"x":{"field":"gene","type":"nominal","sort":null,"scale":{"paddingInner":0.55,"paddingOuter":0.2},"axis":{"title":null,"labelAngle":-90,"ticks":false,"labelPadding":10,"domain":true,"domainColor":"#444","domainWidth":1.2,"labelFontSize":10}},
       "y":{"field":"value","type":"quantitative","scale":{"domain":[0,2.5],"nice":false},"axis":{"title":"Relative MICB MFI (AU)","values":[0,0.5,1,1.5,2,2.5],"format":"~g","domain":true,"domainColor":"#444","domainWidth":1.2,"tickSize":4,"labelPadding":3,"titlePadding":5,"titleFontSize":10.5,"labelFontSize":10.5}},
       "fill":{"field":"group","type":"nominal","scale":{"domain":["neg","pos","non"],"range":["#151515","#ffffff","#808080"]},"legend":null},
       "stroke":{"field":"group","type":"nominal","scale":{"domain":["neg","pos","non"],"range":["#151515","#000000","#808080"]},"legend":null}}},
     {"mark":{"type":"rule","color":"#000","strokeWidth":1},"encoding":{
       "x":{"field":"gene","type":"nominal","sort":null,"scale":{"paddingInner":0.55,"paddingOuter":0.2},"axis":{"title":null,"labelAngle":-90,"ticks":false,"labelPadding":10,"domain":true,"domainColor":"#444","domainWidth":1.2,"labelFontSize":10}},
       "y":{"field":"lo","type":"quantitative","scale":{"domain":[0,2.5],"nice":false},"axis":{"title":"Relative MICB MFI (AU)","values":[0,0.5,1,1.5,2,2.5],"format":"~g","domain":true,"domainColor":"#444","domainWidth":1.2,"tickSize":4,"labelPadding":3,"titlePadding":5,"titleFontSize":10.5,"labelFontSize":10.5}},"y2":{"field":"hi"}}},
     {"mark":{"type":"tick","color":"#000","thickness":1,"size":11},"encoding":{
       "x":{"field":"gene","type":"nominal","sort":null,"scale":{"paddingInner":0.55,"paddingOuter":0.2},"axis":{"title":null,"labelAngle":-90,"ticks":false,"labelPadding":10,"domain":true,"domainColor":"#444","domainWidth":1.2,"labelFontSize":10}},
       "y":{"field":"hi","type":"quantitative","scale":{"domain":[0,2.5],"nice":false},"axis":{"title":"Relative MICB MFI (AU)","values":[0,0.5,1,1.5,2,2.5],"format":"~g","domain":true,"domainColor":"#444","domainWidth":1.2,"tickSize":4,"labelPadding":3,"titlePadding":5,"titleFontSize":10.5,"labelFontSize":10.5}}}},
     {"mark":{"type":"tick","color":"#000","thickness":1,"size":11},"encoding":{
       "x":{"field":"gene","type":"nominal","sort":null,"scale":{"paddingInner":0.55,"paddingOuter":0.2},"axis":{"title":null,"labelAngle":-90,"ticks":false,"labelPadding":10,"domain":true,"domainColor":"#444","domainWidth":1.2,"labelFontSize":10}},
       "y":{"field":"lo","type":"quantitative","scale":{"domain":[0,2.5],"nice":false},"axis":{"title":"Relative MICB MFI (AU)","values":[0,0.5,1,1.5,2,2.5],"format":"~g","domain":true,"domainColor":"#444","domainWidth":1.2,"tickSize":4,"labelPadding":3,"titlePadding":5,"titleFontSize":10.5,"labelFontSize":10.5}}}},
     {"mark":{"type":"rule","color":"#000","strokeWidth":1.3,"strokeDash":[5,4]},"encoding":{
       "y":{"datum":1,"type":"quantitative","scale":{"domain":[0,2.5],"nice":false},"axis":{"title":"Relative MICB MFI (AU)","values":[0,0.5,1,1.5,2,2.5],"format":"~g","domain":true,"domainColor":"#444","domainWidth":1.2,"tickSize":4,"labelPadding":3,"titlePadding":5,"titleFontSize":10.5,"labelFontSize":10.5}}}},
     {"mark":{"type":"rule","color":"#ffffff","strokeWidth":1.3,"strokeDash":[4,5],"strokeDashOffset":4},"encoding":{
       "y":{"datum":1,"type":"quantitative","scale":{"domain":[0,2.5],"nice":false},"axis":{"title":"Relative MICB MFI (AU)","values":[0,0.5,1,1.5,2,2.5],"format":"~g","domain":true,"domainColor":"#444","domainWidth":1.2,"tickSize":4,"labelPadding":3,"titlePadding":5,"titleFontSize":10.5,"labelFontSize":10.5}}}},
     {"transform":[{"filter":"datum.sig=='*'"}],"mark":{"type":"text","fontSize":13,"baseline":"top","dy":-1},"encoding":{
       "x":{"field":"gene","type":"nominal","sort":null,"scale":{"paddingInner":0.55,"paddingOuter":0.2},"axis":{"title":null,"labelAngle":-90,"ticks":false,"labelPadding":10,"domain":true,"domainColor":"#444","domainWidth":1.2,"labelFontSize":10}},
       "text":{"field":"sig"},
       "y":{"datum":2.5,"type":"quantitative","scale":{"domain":[0,2.5],"nice":false},"axis":{"title":"Relative MICB MFI (AU)","values":[0,0.5,1,1.5,2,2.5],"format":"~g","domain":true,"domainColor":"#444","domainWidth":1.2,"tickSize":4,"labelPadding":3,"titlePadding":5,"titleFontSize":10.5,"labelFontSize":10.5}}}},
     {"transform":[{"filter":"datum.sig=='NS'"}],"mark":{"type":"text","fontSize":11,"baseline":"alphabetic"},"encoding":{
       "x":{"field":"gene","type":"nominal","sort":null,"scale":{"paddingInner":0.55,"paddingOuter":0.2},"axis":{"title":null,"labelAngle":-90,"ticks":false,"labelPadding":10,"domain":true,"domainColor":"#444","domainWidth":1.2,"labelFontSize":10}},
       "text":{"field":"sig"},
       "y":{"datum":1.37,"type":"quantitative","scale":{"domain":[0,2.5],"nice":false},"axis":{"title":"Relative MICB MFI (AU)","values":[0,0.5,1,1.5,2,2.5],"format":"~g","domain":true,"domainColor":"#444","domainWidth":1.2,"tickSize":4,"labelPadding":3,"titlePadding":5,"titleFontSize":10.5,"labelFontSize":10.5}}}}
    ]}
  ]}
 ]},
 {"spacing":5,
  "resolve":{"scale":{"x":"independent","y":"independent","fill":"independent","stroke":"independent"},"axis":{"x":"independent","y":"independent"}},
  "vconcat":[
  {"bounds":"flush","spacing":17,
   "resolve":{"scale":{"x":"independent","y":"independent"},"axis":{"x":"independent","y":"independent"}},
   "hconcat":[
   {"width":437,"height":8,"view":{"stroke":null},"data":{"values":[{"label":"Negative regulators"}]},
    "encoding":{"y":{"datum":1,"type":"quantitative","scale":{"domain":[0,1]},"axis":null}},
    "layer":[
     {"mark":{"type":"rule","color":"#888","strokeWidth":1.3}},
     {"mark":{"type":"text","fontSize":11,"baseline":"alphabetic","dy":-5},"encoding":{"text":{"field":"label"}}},
     {"mark":{"type":"text","fontSize":15,"fontWeight":"bold","align":"left","baseline":"alphabetic","dx":-38,"dy":-10},"encoding":{"x":{"datum":0,"type":"quantitative","scale":{"domain":[0,1]},"axis":null},"text":{"value":"b"}}}
    ]},
   {"width":95,"height":8,"view":{"stroke":null},"data":{"values":[{"label":"Positive regulators"}]},
    "encoding":{"y":{"datum":1,"type":"quantitative","scale":{"domain":[0,1]},"axis":null}},
    "layer":[
     {"mark":{"type":"rule","color":"#888","strokeWidth":1.3}},
     {"mark":{"type":"text","fontSize":11,"baseline":"alphabetic","dy":-5},"encoding":{"text":{"field":"label"}}}
    ]},
   {"width":181,"height":8,"view":{"stroke":null},"data":{"values":[{"label":"Non-regulators"}]},
    "encoding":{"y":{"datum":1,"type":"quantitative","scale":{"domain":[0,1]},"axis":null}},
    "layer":[
     {"mark":{"type":"rule","color":"#888","strokeWidth":1.3}},
     {"mark":{"type":"text","fontSize":11,"baseline":"alphabetic","dy":-5},"encoding":{"text":{"field":"label"}}}
    ]}
  ]},
  {"bounds":"flush","spacing":12,
   "resolve":{"scale":{"x":"independent","y":"independent"},"axis":{"x":"independent","y":"independent"}},
   "hconcat":[
   {"width":78,"height":65,"title":"shFUBP3","data":{"name":"flow"},"transform":[{"filter":"datum.panel=='b1'"}],
    "encoding":{"x":{"field":"mfi","type":"quantitative","scale":{"type":"log","domain":[1,1000],"nice":false},"axis":{"title":null,"values":[1,2,3,4,5,6,7,8,9,10,20,30,40,50,60,70,80,90,100,200,300,400,500,600,700,800,900,1000],"labelExpr":"datum.value==1?'10⁰':datum.value==10?'10¹':datum.value==100?'10²':datum.value==1000?'10³':''","labelFlush":false,"labelOverlap":false,"labelPadding":1,"tickSize":{"condition":{"test":"datum.value==1||datum.value==10||datum.value==100||datum.value==1000","value":4},"value":2}}},
     "y":{"field":"count","type":"quantitative","scale":{"domain":[0,100],"nice":false},"axis":{"title":"Count","values":[0,25,50,75,100],"tickSize":3,"labelPadding":2,"titlePadding":4}}},
    "layer":[
     {"transform":[{"filter":"datum.series=='iso'"}],"mark":{"type":"area","fill":"#c8c8c8","stroke":"#8a8a8a","strokeWidth":1,"interpolate":"monotone","clip":true}},
     {"transform":[{"filter":"datum.series=='scr'"}],"mark":{"type":"line","stroke":"#8a8a8a","strokeWidth":1.5,"interpolate":"monotone","clip":true}},
     {"transform":[{"filter":"datum.series=='kd'"}],"mark":{"type":"line","stroke":"#111","strokeWidth":2,"interpolate":"monotone","clip":true}}
    ]},
   {"width":78,"height":65,"title":"shHuR","data":{"name":"flow"},"transform":[{"filter":"datum.panel=='b2'"}],
    "encoding":{"x":{"field":"mfi","type":"quantitative","scale":{"type":"log","domain":[1,1000],"nice":false},"axis":{"title":null,"values":[1,2,3,4,5,6,7,8,9,10,20,30,40,50,60,70,80,90,100,200,300,400,500,600,700,800,900,1000],"labels":false,"tickSize":{"condition":{"test":"datum.value==1||datum.value==10||datum.value==100||datum.value==1000","value":4},"value":2}}},
     "y":{"field":"count","type":"quantitative","scale":{"domain":[0,100],"nice":false},"axis":{"title":null,"values":[0,25,50,75,100],"labels":false,"tickSize":3}}},
    "layer":[
     {"transform":[{"filter":"datum.series=='iso'"}],"mark":{"type":"area","fill":"#c8c8c8","stroke":"#8a8a8a","strokeWidth":1,"interpolate":"monotone","clip":true}},
     {"transform":[{"filter":"datum.series=='scr'"}],"mark":{"type":"line","stroke":"#8a8a8a","strokeWidth":1.5,"interpolate":"monotone","clip":true}},
     {"transform":[{"filter":"datum.series=='kd'"}],"mark":{"type":"line","stroke":"#111","strokeWidth":2,"interpolate":"monotone","clip":true}}
    ]},
   {"width":78,"height":65,"title":"shXRN2","data":{"name":"flow"},"transform":[{"filter":"datum.panel=='b3'"}],
    "encoding":{"x":{"field":"mfi","type":"quantitative","scale":{"type":"log","domain":[1,1000],"nice":false},"axis":{"title":null,"values":[1,2,3,4,5,6,7,8,9,10,20,30,40,50,60,70,80,90,100,200,300,400,500,600,700,800,900,1000],"labels":false,"tickSize":{"condition":{"test":"datum.value==1||datum.value==10||datum.value==100||datum.value==1000","value":4},"value":2}}},
     "y":{"field":"count","type":"quantitative","scale":{"domain":[0,100],"nice":false},"axis":{"title":null,"values":[0,25,50,75,100],"labels":false,"tickSize":3}}},
    "layer":[
     {"transform":[{"filter":"datum.series=='iso'"}],"mark":{"type":"area","fill":"#c8c8c8","stroke":"#8a8a8a","strokeWidth":1,"interpolate":"monotone","clip":true}},
     {"transform":[{"filter":"datum.series=='scr'"}],"mark":{"type":"line","stroke":"#8a8a8a","strokeWidth":1.5,"interpolate":"monotone","clip":true}},
     {"transform":[{"filter":"datum.series=='kd'"}],"mark":{"type":"line","stroke":"#111","strokeWidth":2,"interpolate":"monotone","clip":true}}
    ]},
   {"width":78,"height":65,"title":"shMATR3","data":{"name":"flow"},"transform":[{"filter":"datum.panel=='b4'"}],
    "encoding":{"x":{"field":"mfi","type":"quantitative","scale":{"type":"log","domain":[1,1000],"nice":false},"axis":{"title":null,"values":[1,2,3,4,5,6,7,8,9,10,20,30,40,50,60,70,80,90,100,200,300,400,500,600,700,800,900,1000],"labels":false,"tickSize":{"condition":{"test":"datum.value==1||datum.value==10||datum.value==100||datum.value==1000","value":4},"value":2}}},
     "y":{"field":"count","type":"quantitative","scale":{"domain":[0,100],"nice":false},"axis":{"title":null,"values":[0,25,50,75,100],"labels":false,"tickSize":3}}},
    "layer":[
     {"transform":[{"filter":"datum.series=='iso'"}],"mark":{"type":"area","fill":"#c8c8c8","stroke":"#8a8a8a","strokeWidth":1,"interpolate":"monotone","clip":true}},
     {"transform":[{"filter":"datum.series=='scr'"}],"mark":{"type":"line","stroke":"#8a8a8a","strokeWidth":1.5,"interpolate":"monotone","clip":true}},
     {"transform":[{"filter":"datum.series=='kd'"}],"mark":{"type":"line","stroke":"#111","strokeWidth":2,"interpolate":"monotone","clip":true}}
    ]},
   {"width":78,"height":65,"title":"shCUGBP1","data":{"name":"flow"},"transform":[{"filter":"datum.panel=='b5'"}],
    "encoding":{"x":{"field":"mfi","type":"quantitative","scale":{"type":"log","domain":[1,1000],"nice":false},"axis":{"title":null,"values":[1,2,3,4,5,6,7,8,9,10,20,30,40,50,60,70,80,90,100,200,300,400,500,600,700,800,900,1000],"labels":false,"tickSize":{"condition":{"test":"datum.value==1||datum.value==10||datum.value==100||datum.value==1000","value":4},"value":2}}},
     "y":{"field":"count","type":"quantitative","scale":{"domain":[0,100],"nice":false},"axis":{"title":null,"values":[0,25,50,75,100],"labels":false,"tickSize":3}}},
    "layer":[
     {"transform":[{"filter":"datum.series=='iso'"}],"mark":{"type":"area","fill":"#c8c8c8","stroke":"#8a8a8a","strokeWidth":1,"interpolate":"monotone","clip":true}},
     {"transform":[{"filter":"datum.series=='scr'"}],"mark":{"type":"line","stroke":"#8a8a8a","strokeWidth":1.5,"interpolate":"monotone","clip":true}},
     {"transform":[{"filter":"datum.series=='kd'"}],"mark":{"type":"line","stroke":"#111","strokeWidth":2,"interpolate":"monotone","clip":true}}
    ]},
   {"width":6,"height":65,"view":{"stroke":null},"data":{"values":[{}]},"mark":{"type":"rule","strokeDash":[6,4],"strokeWidth":2,"color":"#222"},
    "encoding":{"x":{"datum":0,"type":"quantitative","scale":{"domain":[-1,1]},"axis":null},"y":{"datum":0,"type":"quantitative","scale":{"domain":[0,100]},"axis":null},"y2":{"datum":117}}},
   {"width":80,"height":65,"title":"shIGF2BP2","data":{"name":"flow"},"transform":[{"filter":"datum.panel=='b6'"}],
    "encoding":{"x":{"field":"mfi","type":"quantitative","scale":{"type":"log","domain":[1,1000],"nice":false},"axis":{"title":null,"values":[1,2,3,4,5,6,7,8,9,10,20,30,40,50,60,70,80,90,100,200,300,400,500,600,700,800,900,1000],"labels":false,"tickSize":{"condition":{"test":"datum.value==1||datum.value==10||datum.value==100||datum.value==1000","value":4},"value":2}}},
     "y":{"field":"count","type":"quantitative","scale":{"domain":[0,100],"nice":false},"axis":{"title":null,"values":[0,25,50,75,100],"labels":false,"tickSize":3}}},
    "layer":[
     {"transform":[{"filter":"datum.series=='iso'"}],"mark":{"type":"area","fill":"#c8c8c8","stroke":"#8a8a8a","strokeWidth":1,"interpolate":"monotone","clip":true}},
     {"transform":[{"filter":"datum.series=='scr'"}],"mark":{"type":"line","stroke":"#8a8a8a","strokeWidth":1.5,"interpolate":"monotone","clip":true}},
     {"transform":[{"filter":"datum.series=='kd'"}],"mark":{"type":"line","stroke":"#111","strokeWidth":2,"interpolate":"monotone","clip":true}}
    ]},
   {"width":6,"height":65,"view":{"stroke":null},"data":{"values":[{}]},"mark":{"type":"rule","strokeDash":[6,4],"strokeWidth":2,"color":"#222"},
    "encoding":{"x":{"datum":0,"type":"quantitative","scale":{"domain":[-1,1]},"axis":null},"y":{"datum":0,"type":"quantitative","scale":{"domain":[0,100]},"axis":null},"y2":{"datum":117}}},
   {"width":80,"height":65,"title":"sh-hnRNP-M","data":{"name":"flow"},"transform":[{"filter":"datum.panel=='b7'"}],
    "encoding":{"x":{"field":"mfi","type":"quantitative","scale":{"type":"log","domain":[1,1000],"nice":false},"axis":{"title":null,"values":[1,2,3,4,5,6,7,8,9,10,20,30,40,50,60,70,80,90,100,200,300,400,500,600,700,800,900,1000],"labels":false,"tickSize":{"condition":{"test":"datum.value==1||datum.value==10||datum.value==100||datum.value==1000","value":4},"value":2}}},
     "y":{"field":"count","type":"quantitative","scale":{"domain":[0,100],"nice":false},"axis":{"title":null,"values":[0,25,50,75,100],"labels":false,"tickSize":3}}},
    "layer":[
     {"transform":[{"filter":"datum.series=='iso'"}],"mark":{"type":"area","fill":"#c8c8c8","stroke":"#8a8a8a","strokeWidth":1,"interpolate":"monotone","clip":true}},
     {"transform":[{"filter":"datum.series=='scr'"}],"mark":{"type":"line","stroke":"#8a8a8a","strokeWidth":1.5,"interpolate":"monotone","clip":true}},
     {"transform":[{"filter":"datum.series=='kd'"}],"mark":{"type":"line","stroke":"#111","strokeWidth":2,"interpolate":"monotone","clip":true}}
    ]},
   {"width":80,"height":65,"title":"shSTAU2","data":{"name":"flow"},"transform":[{"filter":"datum.panel=='b8'"}],
    "encoding":{"x":{"field":"mfi","type":"quantitative","scale":{"type":"log","domain":[1,1000],"nice":false},"axis":{"title":null,"values":[1,2,3,4,5,6,7,8,9,10,20,30,40,50,60,70,80,90,100,200,300,400,500,600,700,800,900,1000],"labels":false,"tickSize":{"condition":{"test":"datum.value==1||datum.value==10||datum.value==100||datum.value==1000","value":4},"value":2}}},
     "y":{"field":"count","type":"quantitative","scale":{"domain":[0,100],"nice":false},"axis":{"title":null,"values":[0,25,50,75,100],"labels":false,"tickSize":3}}},
    "layer":[
     {"transform":[{"filter":"datum.series=='iso'"}],"mark":{"type":"area","fill":"#c8c8c8","stroke":"#8a8a8a","strokeWidth":1,"interpolate":"monotone","clip":true}},
     {"transform":[{"filter":"datum.series=='scr'"}],"mark":{"type":"line","stroke":"#8a8a8a","strokeWidth":1.5,"interpolate":"monotone","clip":true}},
     {"transform":[{"filter":"datum.series=='kd'"}],"mark":{"type":"line","stroke":"#111","strokeWidth":2,"interpolate":"monotone","clip":true}}
    ]}
  ]},
  {"spacing":-13,
   "resolve":{"scale":{"x":"independent","y":"independent"},"axis":{"x":"independent","y":"independent"}},
   "vconcat":[
   {"bounds":"flush","spacing":0,
    "resolve":{"scale":{"x":"independent","y":"independent"},"axis":{"x":"independent","y":"independent"}},
    "hconcat":[
    {"width":32,"height":1,"view":{"stroke":null},"data":{"values":[{"label":"MICB"}]},
     "encoding":{"y":{"datum":1,"type":"quantitative","scale":{"domain":[0,1]},"axis":null},"x":{"datum":0,"type":"quantitative","scale":{"domain":[0,1]},"axis":null}},
     "layer":[
      {"mark":{"type":"text","align":"left","baseline":"middle","fontSize":11},"encoding":{"text":{"field":"label"}}},
      {"mark":{"type":"text","align":"left","baseline":"middle","dx":-38,"fontSize":15,"fontWeight":"bold"},"encoding":{"text":{"value":"d"}}}
     ]},
    {"width":718,"height":1,"view":{"stroke":null},"data":{"values":[{"label":"MICB"}]},
     "encoding":{"y":{"datum":1,"type":"quantitative","scale":{"domain":[0,1]},"axis":null}},
     "layer":[
      {"mark":{"type":"rule","color":"#555","strokeWidth":1.5}},
      {"mark":{"type":"point","shape":"M-1,-1L0,0L-1,1","filled":false,"size":64,"strokeWidth":1.5,"color":"#555","opacity":1},"encoding":{"x":{"datum":1,"type":"quantitative","scale":{"domain":[0,1]},"axis":null}}}
     ]}
   ]},
   {"bounds":"flush","spacing":12,
    "resolve":{"scale":{"x":"independent","y":"independent"},"axis":{"x":"independent","y":"independent"}},
    "hconcat":[
    {"width":78,"height":65,"data":{"name":"flow"},"transform":[{"filter":"datum.panel=='d1'"}],
     "encoding":{"x":{"field":"mfi","type":"quantitative","scale":{"type":"log","domain":[1,1000],"nice":false},"axis":{"title":null,"values":[1,2,3,4,5,6,7,8,9,10,20,30,40,50,60,70,80,90,100,200,300,400,500,600,700,800,900,1000],"labelExpr":"datum.value==1?'10⁰':datum.value==10?'10¹':datum.value==100?'10²':datum.value==1000?'10³':''","labelFlush":false,"labelOverlap":false,"labelPadding":1,"tickSize":{"condition":{"test":"datum.value==1||datum.value==10||datum.value==100||datum.value==1000","value":4},"value":2}}},
      "y":{"field":"count","type":"quantitative","scale":{"domain":[0,100],"nice":false},"axis":{"title":"Count","values":[0,25,50,75,100],"tickSize":3,"labelPadding":2,"titlePadding":4}}},
     "layer":[
      {"transform":[{"filter":"datum.series=='iso'"}],"mark":{"type":"area","fill":"#c4c4c4","interpolate":"monotone","clip":true}},
      {"transform":[{"filter":"datum.series=='scr'"}],"mark":{"type":"line","stroke":"#777","strokeWidth":2,"interpolate":"monotone","clip":true}},
      {"transform":[{"filter":"datum.series=='kd'"}],"mark":{"type":"line","stroke":"#111","strokeWidth":2,"interpolate":"monotone","clip":true}}
     ]},
    {"width":78,"height":65,"data":{"name":"flow"},"transform":[{"filter":"datum.panel=='d2'"}],
     "encoding":{"x":{"field":"mfi","type":"quantitative","scale":{"type":"log","domain":[1,1000],"nice":false},"axis":{"title":null,"values":[1,2,3,4,5,6,7,8,9,10,20,30,40,50,60,70,80,90,100,200,300,400,500,600,700,800,900,1000],"labels":false,"tickSize":{"condition":{"test":"datum.value==1||datum.value==10||datum.value==100||datum.value==1000","value":4},"value":2}}},
      "y":{"field":"count","type":"quantitative","scale":{"domain":[0,100],"nice":false},"axis":{"title":null,"values":[0,25,50,75,100],"labels":false,"tickSize":3}}},
     "layer":[
      {"transform":[{"filter":"datum.series=='iso'"}],"mark":{"type":"area","fill":"#c4c4c4","interpolate":"monotone","clip":true}},
      {"transform":[{"filter":"datum.series=='scr'"}],"mark":{"type":"line","stroke":"#777","strokeWidth":2,"interpolate":"monotone","clip":true}},
      {"transform":[{"filter":"datum.series=='kd'"}],"mark":{"type":"line","stroke":"#111","strokeWidth":2,"interpolate":"monotone","clip":true}}
     ]},
    {"width":78,"height":65,"data":{"name":"flow"},"transform":[{"filter":"datum.panel=='d3'"}],
     "encoding":{"x":{"field":"mfi","type":"quantitative","scale":{"type":"log","domain":[1,1000],"nice":false},"axis":{"title":null,"values":[1,2,3,4,5,6,7,8,9,10,20,30,40,50,60,70,80,90,100,200,300,400,500,600,700,800,900,1000],"labels":false,"tickSize":{"condition":{"test":"datum.value==1||datum.value==10||datum.value==100||datum.value==1000","value":4},"value":2}}},
      "y":{"field":"count","type":"quantitative","scale":{"domain":[0,100],"nice":false},"axis":{"title":null,"values":[0,25,50,75,100],"labels":false,"tickSize":3}}},
     "layer":[
      {"transform":[{"filter":"datum.series=='iso'"}],"mark":{"type":"area","fill":"#c4c4c4","interpolate":"monotone","clip":true}},
      {"transform":[{"filter":"datum.series=='scr'"}],"mark":{"type":"line","stroke":"#777","strokeWidth":2,"interpolate":"monotone","clip":true}},
      {"transform":[{"filter":"datum.series=='kd'"}],"mark":{"type":"line","stroke":"#111","strokeWidth":2,"interpolate":"monotone","clip":true}}
     ]},
    {"width":78,"height":65,"data":{"name":"flow"},"transform":[{"filter":"datum.panel=='d4'"}],
     "encoding":{"x":{"field":"mfi","type":"quantitative","scale":{"type":"log","domain":[1,1000],"nice":false},"axis":{"title":null,"values":[1,2,3,4,5,6,7,8,9,10,20,30,40,50,60,70,80,90,100,200,300,400,500,600,700,800,900,1000],"labels":false,"tickSize":{"condition":{"test":"datum.value==1||datum.value==10||datum.value==100||datum.value==1000","value":4},"value":2}}},
      "y":{"field":"count","type":"quantitative","scale":{"domain":[0,100],"nice":false},"axis":{"title":null,"values":[0,25,50,75,100],"labels":false,"tickSize":3}}},
     "layer":[
      {"transform":[{"filter":"datum.series=='iso'"}],"mark":{"type":"area","fill":"#c4c4c4","interpolate":"monotone","clip":true}},
      {"transform":[{"filter":"datum.series=='scr'"}],"mark":{"type":"line","stroke":"#777","strokeWidth":2,"interpolate":"monotone","clip":true}},
      {"transform":[{"filter":"datum.series=='kd'"}],"mark":{"type":"line","stroke":"#111","strokeWidth":2,"interpolate":"monotone","clip":true}}
     ]},
    {"width":78,"height":65,"data":{"name":"flow"},"transform":[{"filter":"datum.panel=='d5'"}],
     "encoding":{"x":{"field":"mfi","type":"quantitative","scale":{"type":"log","domain":[1,1000],"nice":false},"axis":{"title":null,"values":[1,2,3,4,5,6,7,8,9,10,20,30,40,50,60,70,80,90,100,200,300,400,500,600,700,800,900,1000],"labels":false,"tickSize":{"condition":{"test":"datum.value==1||datum.value==10||datum.value==100||datum.value==1000","value":4},"value":2}}},
      "y":{"field":"count","type":"quantitative","scale":{"domain":[0,100],"nice":false},"axis":{"title":null,"values":[0,25,50,75,100],"labels":false,"tickSize":3}}},
     "layer":[
      {"transform":[{"filter":"datum.series=='iso'"}],"mark":{"type":"area","fill":"#c4c4c4","interpolate":"monotone","clip":true}},
      {"transform":[{"filter":"datum.series=='scr'"}],"mark":{"type":"line","stroke":"#777","strokeWidth":2,"interpolate":"monotone","clip":true}},
      {"transform":[{"filter":"datum.series=='kd'"}],"mark":{"type":"line","stroke":"#111","strokeWidth":2,"interpolate":"monotone","clip":true}}
     ]},
    {"width":6,"height":65,"view":{"stroke":null},"data":{"values":[{}]},"mark":{"type":"rule","strokeDash":[6,4],"strokeWidth":2,"color":"#222"},
     "encoding":{"x":{"datum":0,"type":"quantitative","scale":{"domain":[-1,1]},"axis":null},"y":{"datum":-5,"type":"quantitative","scale":{"domain":[0,100]},"axis":null},"y2":{"datum":137}}},
    {"width":80,"height":65,"data":{"name":"flow"},"transform":[{"filter":"datum.panel=='d6'"}],
     "encoding":{"x":{"field":"mfi","type":"quantitative","scale":{"type":"log","domain":[1,1000],"nice":false},"axis":{"title":null,"values":[1,2,3,4,5,6,7,8,9,10,20,30,40,50,60,70,80,90,100,200,300,400,500,600,700,800,900,1000],"labels":false,"tickSize":{"condition":{"test":"datum.value==1||datum.value==10||datum.value==100||datum.value==1000","value":4},"value":2}}},
      "y":{"field":"count","type":"quantitative","scale":{"domain":[0,100],"nice":false},"axis":{"title":null,"values":[0,25,50,75,100],"labels":false,"tickSize":3}}},
     "layer":[
      {"transform":[{"filter":"datum.series=='iso'"}],"mark":{"type":"area","fill":"#c4c4c4","interpolate":"monotone","clip":true}},
      {"transform":[{"filter":"datum.series=='scr'"}],"mark":{"type":"line","stroke":"#777","strokeWidth":2,"interpolate":"monotone","clip":true}},
      {"transform":[{"filter":"datum.series=='kd'"}],"mark":{"type":"line","stroke":"#111","strokeWidth":2,"interpolate":"monotone","clip":true}}
     ]},
    {"width":6,"height":65,"view":{"stroke":null},"data":{"values":[{}]},"mark":{"type":"rule","strokeDash":[6,4],"strokeWidth":2,"color":"#222"},
     "encoding":{"x":{"datum":0,"type":"quantitative","scale":{"domain":[-1,1]},"axis":null},"y":{"datum":-5,"type":"quantitative","scale":{"domain":[0,100]},"axis":null},"y2":{"datum":137}}},
    {"width":80,"height":65,"data":{"name":"flow"},"transform":[{"filter":"datum.panel=='d7'"}],
     "encoding":{"x":{"field":"mfi","type":"quantitative","scale":{"type":"log","domain":[1,1000],"nice":false},"axis":{"title":null,"values":[1,2,3,4,5,6,7,8,9,10,20,30,40,50,60,70,80,90,100,200,300,400,500,600,700,800,900,1000],"labels":false,"tickSize":{"condition":{"test":"datum.value==1||datum.value==10||datum.value==100||datum.value==1000","value":4},"value":2}}},
      "y":{"field":"count","type":"quantitative","scale":{"domain":[0,100],"nice":false},"axis":{"title":null,"values":[0,25,50,75,100],"labels":false,"tickSize":3}}},
     "layer":[
      {"transform":[{"filter":"datum.series=='iso'"}],"mark":{"type":"area","fill":"#c4c4c4","interpolate":"monotone","clip":true}},
      {"transform":[{"filter":"datum.series=='scr'"}],"mark":{"type":"line","stroke":"#777","strokeWidth":2,"interpolate":"monotone","clip":true}},
      {"transform":[{"filter":"datum.series=='kd'"}],"mark":{"type":"line","stroke":"#111","strokeWidth":2,"interpolate":"monotone","clip":true}}
     ]},
    {"width":80,"height":65,"data":{"name":"flow"},"transform":[{"filter":"datum.panel=='d8'"}],
     "encoding":{"x":{"field":"mfi","type":"quantitative","scale":{"type":"log","domain":[1,1000],"nice":false},"axis":{"title":null,"values":[1,2,3,4,5,6,7,8,9,10,20,30,40,50,60,70,80,90,100,200,300,400,500,600,700,800,900,1000],"labels":false,"tickSize":{"condition":{"test":"datum.value==1||datum.value==10||datum.value==100||datum.value==1000","value":4},"value":2}}},
      "y":{"field":"count","type":"quantitative","scale":{"domain":[0,100],"nice":false},"axis":{"title":null,"values":[0,25,50,75,100],"labels":false,"tickSize":3}}},
     "layer":[
      {"transform":[{"filter":"datum.series=='iso'"}],"mark":{"type":"area","fill":"#c4c4c4","interpolate":"monotone","clip":true}},
      {"transform":[{"filter":"datum.series=='scr'"}],"mark":{"type":"line","stroke":"#777","strokeWidth":2,"interpolate":"monotone","clip":true}},
      {"transform":[{"filter":"datum.series=='kd'"}],"mark":{"type":"line","stroke":"#111","strokeWidth":2,"interpolate":"monotone","clip":true}}
     ]}
   ]},
   {"bounds":"flush","spacing":0,
    "resolve":{"scale":{"x":"independent","y":"independent"},"axis":{"x":"independent","y":"independent"}},
    "hconcat":[
    {"width":32,"height":9,"view":{"stroke":null},"data":{"values":[{"label":"MICA"}]},
     "mark":{"type":"text","align":"left","baseline":"middle","fontSize":11},
     "encoding":{"y":{"datum":0,"type":"quantitative","scale":{"domain":[0,1]},"axis":null},"x":{"datum":0,"type":"quantitative","scale":{"domain":[0,1]},"axis":null},"text":{"field":"label"}}},
    {"width":718,"height":9,"view":{"stroke":null},"data":{"values":[{"label":"MICA"}]},
     "encoding":{"y":{"datum":0,"type":"quantitative","scale":{"domain":[0,1]},"axis":null}},
     "layer":[
      {"mark":{"type":"rule","color":"#555","strokeWidth":1.5}},
      {"mark":{"type":"point","shape":"M-1,-1L0,0L-1,1","filled":false,"size":64,"strokeWidth":1.5,"color":"#555","opacity":1},"encoding":{"x":{"datum":1,"type":"quantitative","scale":{"domain":[0,1]},"axis":null}}}
     ]}
   ]}
  ]}
 ]}
]
}
